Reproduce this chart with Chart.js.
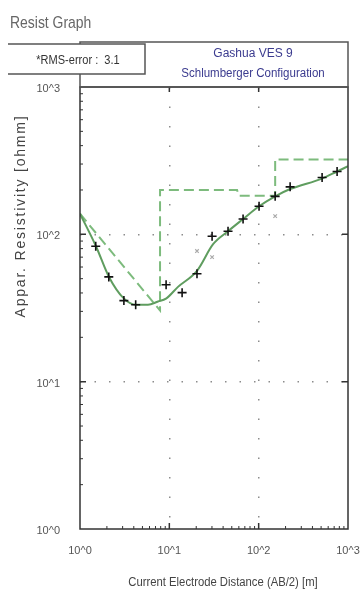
<!DOCTYPE html>
<html>
<head>
<meta charset="utf-8">
<script src="https://cdn.jsdelivr.net/npm/chart.js@4.4.1/dist/chart.umd.min.js"></script>
<style>
  html, body { margin: 0; padding: 0; background: #fff; }
  canvas { display: block; }
</style>
</head>
<body>
<canvas id="resistChart" width="361" height="593"></canvas>
<script>
// axis ticks (log decades)
const decadeTicks = [1, 10, 100, 1000];
const tickLabels = ["10^0", "10^1", "10^2", "10^3"];
const minorMultipliers = [2, 3, 4, 5, 6, 7, 8, 9];

// field data: AB/2 [m] vs apparent resistivity [ohmm]
const measuredAB2 = [1.5, 2.1, 3.1, 4.2, 9.2, 13.9, 20.4, 30.1, 45.4, 66.9, 101, 153, 225, 513, 755];
const measuredRho = [83, 51.4, 35.5, 33.3, 45.5, 40.2, 54, 97, 105, 127, 155, 181, 210, 243, 267];

// masked / skipped readings (grey)
const maskedAB2 = [20.4, 30.1, 153];
const maskedRho = [77, 70, 133];

// calculated curve
const curveAB2 = [1, 1.51, 2.11, 3.11, 4.24, 5.77, 7.47, 9.18, 12.5, 20.4, 30.9, 45.4, 66.9, 101, 153, 225, 513, 755, 1000];
const curveRho = [138, 83, 51.4, 36.6, 33.3, 33.3, 35, 36.6, 44, 56.5, 85.7, 105, 127, 155, 181, 203, 239, 267, 290];

// layer model (depth vs resistivity)
const modelDepth = [1, 7.87, 7.87, 57.3, 60, 153, 153, 1000];
const modelRho = [138, 30.4, 200, 200, 183, 183, 322, 322];

const narrowFont = "'Liberation Sans', Arial, sans-serif";
const toPoints = (xs, ys) => xs.map((x, i) => ({ x: x, y: ys[i] }));

// text squeezed horizontally to look like the narrow font of the original
const narrowText = (ctx, text, x, y, squeeze) => {
    ctx.save();
    ctx.translate(x, y);
    ctx.scale(squeeze, 1);
    ctx.fillText(text, 0, 0);
    ctx.restore();
};

const decorations = {
    id: "decorations",
    beforeDatasetsDraw: (chart) => {
        const ctx = chart.ctx;
        const area = chart.chartArea;
        const xs = chart.scales.x;
        const ys = chart.scales.y;
        ctx.save();
        ctx.strokeStyle = "#333";
        ctx.lineWidth = 1;
        // inner tick marks
        decadeTicks.slice(0, 3).forEach((d) => {
            minorMultipliers.forEach((m) => {
                const py = ys.getPixelForValue(d * m);
                const px = xs.getPixelForValue(d * m);
                ctx.beginPath();
                ctx.moveTo(area.left, py);
                ctx.lineTo(area.left + 3, py);
                ctx.moveTo(px, area.bottom);
                ctx.lineTo(px, area.bottom - 3);
                ctx.stroke();
            });
        });
        ctx.lineWidth = 1.5;
        [10, 100].forEach((v) => {
            const py = ys.getPixelForValue(v);
            const px = xs.getPixelForValue(v);
            ctx.beginPath();
            ctx.moveTo(area.left, py);
            ctx.lineTo(area.left + 6, py);
            ctx.moveTo(area.right, py);
            ctx.lineTo(area.right - 6, py);
            ctx.moveTo(px, area.bottom);
            ctx.lineTo(px, area.bottom - 6);
            ctx.moveTo(px, area.top);
            ctx.lineTo(px, area.top + 5);
            ctx.stroke();
        });
        ctx.restore();
    },
    afterDraw: (chart) => {
        const ctx = chart.ctx;
        const area = chart.chartArea;
        ctx.save();

        // plot frame
        ctx.strokeStyle = "#333";
        ctx.lineWidth = 1.5;
        ctx.strokeRect(area.left, area.top, area.right - area.left, area.bottom - area.top);

        // header box
        ctx.strokeStyle = "#555";
        ctx.strokeRect(area.left, 42, area.right - area.left, area.top - 42);

        // rms box
        ctx.fillStyle = "#fff";
        ctx.fillRect(8, 44, 137, 30);
        ctx.beginPath();
        ctx.moveTo(8, 44);
        ctx.lineTo(145, 44);
        ctx.lineTo(145, 74);
        ctx.lineTo(8, 74);
        ctx.stroke();

        ctx.textBaseline = "alphabetic";
        ctx.fillStyle = "#666";
        ctx.font = "17px " + narrowFont;
        ctx.textAlign = "left";
        narrowText(ctx, "Resist Graph", 10, 28, 0.82);

        ctx.fillStyle = "#333";
        ctx.font = "12px " + narrowFont;
        ctx.textAlign = "center";
        narrowText(ctx, "*RMS-error :  3.1", 78, 64, 0.92);

        ctx.fillStyle = "#3b3b8f";
        ctx.fillText("Gashua VES 9", 253, 57);
        narrowText(ctx, "Schlumberger Configuration", 253, 77, 0.96);

        // axis titles
        ctx.fillStyle = "#444";
        narrowText(ctx, "Current Electrode Distance (AB/2) [m]", 223, 586, 0.94);

        ctx.translate(21, 216);
        ctx.rotate(-Math.PI / 2);
        ctx.font = "14px " + narrowFont;
        ctx.letterSpacing = "1.8px";
        ctx.textBaseline = "middle";
        ctx.fillText("Appar. Resistivity [ohmm]", 0, 0);
        ctx.restore();
    }
};

const logAxis = (dash, labelOffset, padding) => ({
    type: "logarithmic",
    min: 1,
    max: 1000,
    afterBuildTicks: (scale) => {
        scale.ticks = decadeTicks.map((v) => ({ value: v }));
    },
    ticks: {
        autoSkip: false,
        maxRotation: 0,
        padding: padding,
        labelOffset: labelOffset,
        color: "#555",
        font: { family: narrowFont, size: 11 },
        callback: (value) => {
            const i = decadeTicks.indexOf(value);
            return i >= 0 ? tickLabels[i] : "";
        }
    },
    grid: {
        drawTicks: false,
        lineWidth: 1.5,
        color: (c) => (c.tick && (c.tick.value === 1 || c.tick.value === 1000)) ? "rgba(0,0,0,0)" : "#8c8c8c"
    },
    border: { display: false, dash: dash }
});

const xAxis = logAxis([1.5, 18], 0, 15);
xAxis.afterFit = (scale) => {
    scale.height = 64;
    scale.paddingLeft = 0;
    scale.paddingRight = 0;
};
const yAxis = logAxis([1.5, 13], 2, 20);
yAxis.afterFit = (scale) => {
    scale.width = 80;
    scale.paddingTop = 0;
    scale.paddingBottom = 0;
};

new Chart(document.getElementById("resistChart").getContext("2d"), {
    type: "scatter",
    data: {
        datasets: [
            {
                label: "Measured",
                data: toPoints(measuredAB2, measuredRho),
                pointStyle: "cross",
                pointRadius: 4.5,
                borderColor: "#111",
                borderWidth: 1.6,
                showLine: false
            },
            {
                label: "Masked",
                data: toPoints(maskedAB2, maskedRho),
                pointStyle: "crossRot",
                pointRadius: 2.5,
                borderColor: "#aaa",
                borderWidth: 1.2,
                showLine: false
            },
            {
                label: "Calculated",
                data: toPoints(curveAB2, curveRho),
                showLine: true,
                pointRadius: 0,
                borderColor: "#5f9d5f",
                borderWidth: 2,
                cubicInterpolationMode: "monotone"
            },
            {
                label: "Model",
                data: toPoints(modelDepth, modelRho),
                showLine: true,
                pointRadius: 0,
                borderColor: "#7dbb7d",
                borderWidth: 2,
                borderDash: [10, 5],
                tension: 0
            }
        ]
    },
    options: {
        responsive: false,
        animation: false,
        devicePixelRatio: 1,
        layout: { padding: { left: 0, right: 13, top: 87, bottom: 0 } },
        plugins: {
            legend: { display: false },
            tooltip: { enabled: false }
        },
        scales: { x: xAxis, y: yAxis }
    },
    plugins: [decorations]
});
</script>
</body>
</html>
